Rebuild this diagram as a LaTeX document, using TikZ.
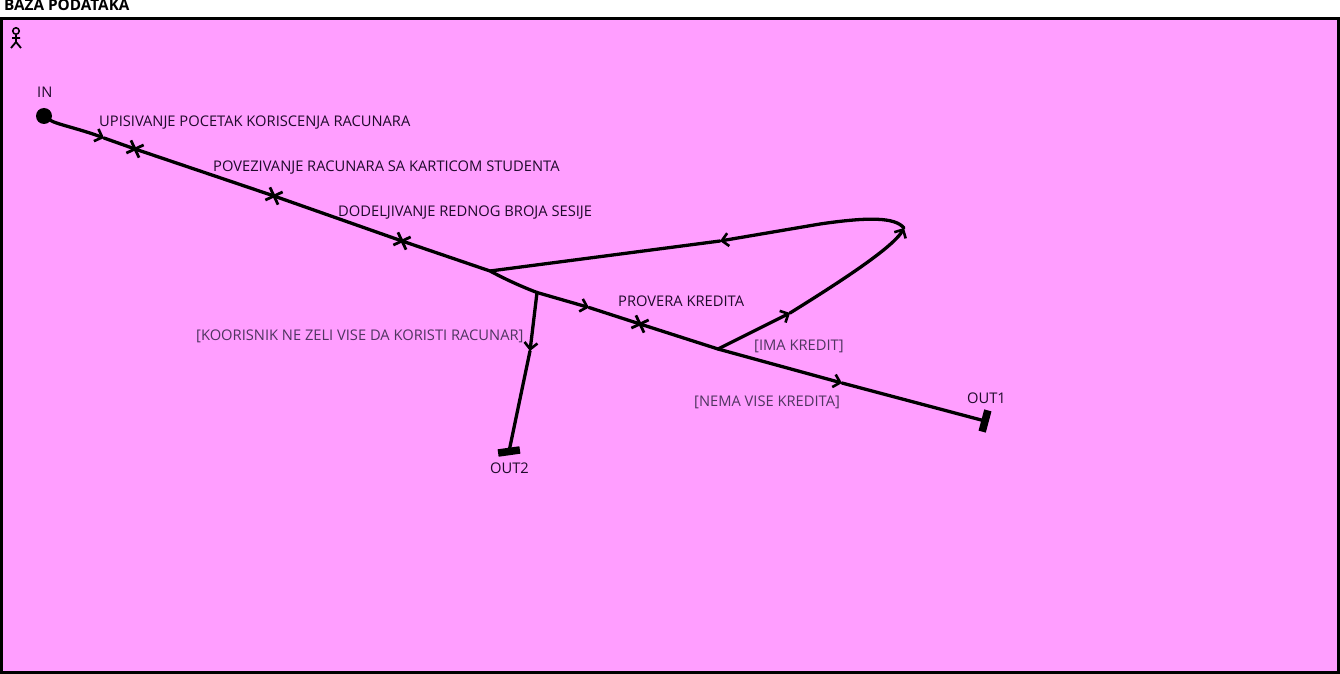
\documentclass[tikz,border=0pt]{standalone}
\usepackage{fontspec}
\setmainfont{Open Sans}
\usetikzlibrary{arrows.meta,shapes.misc}
\definecolor{bgpink}{HTML}{FF9EFF}
\definecolor{acttext}{HTML}{1F0A2B}
\definecolor{guardtext}{HTML}{4F3560}
\tikzset{
  wire/.style={line width=3.3pt,black,line join=round,line cap=round},
  flow/.style={wire,-{Straight Barb[length=6.5pt,width=13pt,line width=2.6pt]}},
  xmark/.style={cross out,draw=black,line width=2.8pt,minimum size=13.5pt,inner sep=0pt,outer sep=0pt,rotate=-20},
  lbl/.style={inner sep=0pt,anchor=base west,font=\fontsize{14.7}{16}\selectfont,text=acttext},
  grd/.style={lbl,text=guardtext},
  endbar/.style={fill=black,minimum width=22pt,minimum height=7.5pt,inner sep=0pt,outer sep=0pt},
}
\begin{document}
\begin{tikzpicture}[x=1pt,y=-1pt]
\useasboundingbox (0,0) rectangle (1340,674);
\fill[white] (0,0) rectangle (1340,674);
\node[inner sep=0pt,anchor=base west,font=\fontsize{15.3}{17}\selectfont\bfseries] (title) at (4,11) {BAZA PODATAKA};
\node[draw=black,line width=3pt,fill=bgpink,minimum width=1337pt,minimum height=654pt,inner sep=0pt,outer sep=0pt,anchor=north west] (frame) at (1.5,18.5) {};
% actor
\node[circle,draw=black,line width=1.5pt,minimum size=6.5pt,inner sep=0pt] (head) at (16,31) {};
\coordinate (hip) at (16,42);
\coordinate (armL) at (12,38);
\coordinate (armR) at (20,38);
\coordinate (legL) at (11,48);
\coordinate (legR) at (21,48);
\draw[line width=1.8pt] (head) -- (hip) (armL) -- (armR) (legL) -- (hip) -- (legR);
% nodes
\node[circle,fill=black,minimum size=16pt,inner sep=0pt] (in) at (44,116) {};
\coordinate (a1) at (104,138);
\node[xmark] (x1) at (135,149) {};
\node[xmark] (x2) at (274,196) {};
\node[xmark] (x3) at (402,241) {};
\coordinate (j1) at (490,271);
\coordinate (j2) at (537,292.5);
\coordinate (a2) at (589,307.5);
\node[xmark] (x4) at (640,324) {};
\coordinate (j3) at (718,349);
\coordinate (a3) at (842,383);
\node[endbar,rotate=75] (out1) at (985,421) {};
\coordinate (a4) at (530,351);
\node[endbar,rotate=8] (out2) at (509,451.5) {};
\coordinate (a5) at (790,313);
\coordinate (turn) at (904,228);
\coordinate (a6) at (720,241);
% connectors
\draw[flow] (in) .. controls (56,124) and (80,129) .. (a1);
\draw[wire] (a1) -- (x1.center) -- (x2.center) -- (x3.center) -- (j1) .. controls (505,279) and (520,286) .. (j2);
\draw[flow] (j2) -- (a2);
\draw[wire] (a2) -- (x4.center) -- (j3);
\draw[flow] (j3) -- (a3);
\draw[wire] (a3) -- (out1.center);
\draw[flow] (j2) -- (a4);
\draw[wire] (a4) -- (out2.center);
\draw[flow] (j3) -- (a5);
\draw[flow] (a5) .. controls (835,285) and (893,248) .. (turn);
\draw[flow] (turn) .. controls (895,217) and (868,217) .. (820,224) -- (a6);
\draw[wire] (a6) -- (j1);
% labels
\node[lbl] (l0) at (37,98) {IN};
\node[lbl] (l1) at (99,126) {UPISIVANJE POCETAK KORISCENJA RACUNARA};
\node[lbl] (l2) at (213,171) {POVEZIVANJE RACUNARA SA KARTICOM STUDENTA};
\node[lbl] (l3) at (338,216) {DODELJIVANJE REDNOG BROJA SESIJE};
\node[lbl] (l4) at (618,306) {PROVERA KREDITA};
\node[grd] (l5) at (196,340) {[KOORISNIK NE ZELI VISE DA KORISTI RACUNAR]};
\node[grd] (l6) at (754,350) {[IMA KREDIT]};
\node[grd] (l7) at (694,406) {[NEMA VISE KREDITA]};
\node[lbl] (l8) at (967,403) {OUT1};
\node[lbl] (l9) at (490,473) {OUT2};
\end{tikzpicture}
\end{document}
